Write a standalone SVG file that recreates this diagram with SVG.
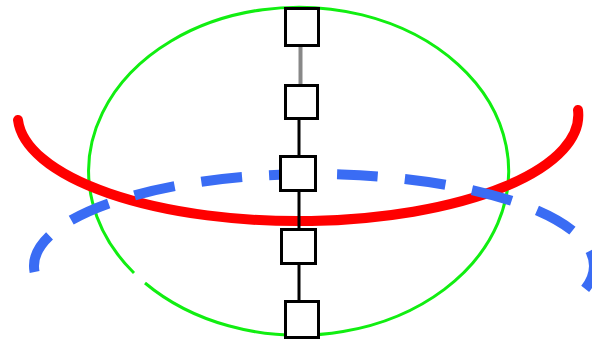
<svg xmlns="http://www.w3.org/2000/svg" width="592" height="342" viewBox="0 0 592 342">
<style>
.node rect{fill:#fff;stroke:#000;stroke-width:3}
.edge{stroke:#000;stroke-width:3}
</style>
<rect width="592" height="342" fill="#fff"/>
<g id="green-ellipse"><path d="M134 273 A210 164 0 1 1 145 283" fill="none" stroke="#11ee11" stroke-width="3"/></g>
<g id="red-arc"><path d="M18 120 A280 106 0 0 0 578 110" fill="none" stroke="#ff0000" stroke-width="10" stroke-linecap="round"/></g>
<g id="blue-arc"><path d="M34.6 272 A280 92 0 1 1 584.3 290" fill="none" stroke="#3a6cf4" stroke-width="10" stroke-dasharray="41 27"/></g>
<g id="connectors">
<line x1="300.5" y1="46" x2="300.5" y2="86" stroke="#888" stroke-width="4"/>
<line class="edge" x1="299" y1="119" x2="299" y2="157"/>
<line class="edge" x1="299" y1="191" x2="299" y2="230"/>
<line class="edge" x1="299" y1="263" x2="299" y2="302"/>
</g>
<g id="n1" class="node"><rect x="285.5" y="8.5" width="33" height="37"/></g>
<g id="n2" class="node"><rect x="285.5" y="85.5" width="32" height="33"/></g>
<g id="n3" class="node"><rect x="280.5" y="156.5" width="35" height="34"/></g>
<g id="n4" class="node"><rect x="281.5" y="229.5" width="34" height="34"/></g>
<g id="n5" class="node"><rect x="285.5" y="301.5" width="33" height="36"/></g>
</svg>
